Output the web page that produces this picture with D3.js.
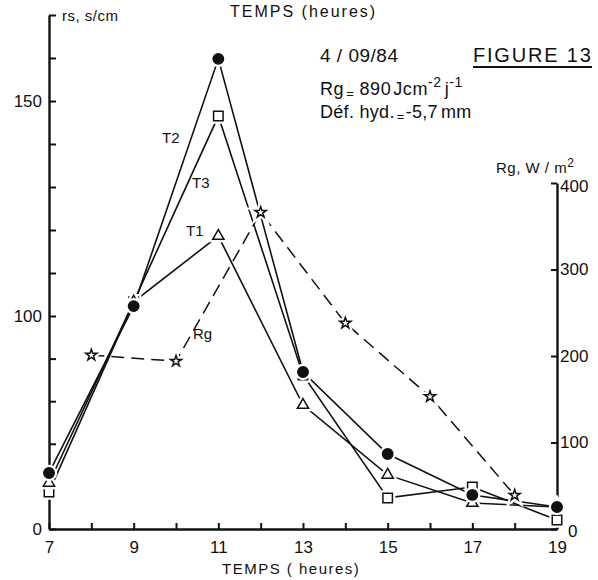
<!DOCTYPE html>
<html lang="fr">
<head>
  <meta charset="UTF-8">
  <title>Figure 13</title>
  <script src="https://cdn.jsdelivr.net/npm/d3@7"></script>
  <style>
    html, body {
      margin: 0;
      padding: 0;
      background: #fff;
    }
    svg text {
      font-family: "Liberation Sans", Arial, sans-serif;
      fill: #111;
    }
  </style>
</head>
<body>
  <div id="chart"></div>
  <script>
    const hours = [7, 9, 11, 13, 15, 17, 19];
    const t1 = [21.6, 103.3, 118.6, 58.2, 25.4, 12.2, 10.3];
    const t2 = [26.3, 102.3, 159.8, 73.7, 35.2, 16, 10.3];
    const t3 = [17.4, 103.3, 146.5, 72.3, 14.6, 19.7, 4.2];

    // rayonnement global, W/m2
    const rgHours = [8, 10, 12, 14, 16, 18];
    const rg = [201, 194, 366, 238, 153, 39];

    const xTicks = d3.range(7, 20);
    const xLabels = [7, 9, 11, 13, 15, 17, 19];
    const leftTicks = [0, 20, 40, 60, 80, 100, 110, 120, 130, 140, 150, 160, 170];
    const leftLabels = [0, 100, 150];
    const rightTicks = [0, 100, 200, 300, 400];

    const svg = d3.select('#chart').append('svg')
      .attr('width', 598)
      .attr('height', 580);

    const x = d3.scaleLinear().domain([7, 19]).range([49, 557]);
    // the rs axis is drawn compressed below 100
    const yL = d3.scaleLinear().domain([0, 100, 170]).range([529, 316, 15]);
    const yR = d3.scaleLinear().domain([0, 400]).range([529, 183]);

    // axes
    const gx = svg.append('g')
      .attr('transform', 'translate(0,529)')
      .call(d3.axisBottom(x)
        .tickValues(xTicks)
        .tickSizeInner(-6)
        .tickSizeOuter(0)
        .tickPadding(12)
        .tickFormat(d => xLabels.includes(d) ? d : ''));

    const gl = svg.append('g')
      .attr('transform', 'translate(49,0)')
      .call(d3.axisLeft(yL)
        .tickValues(leftTicks)
        .tickSizeInner(-7)
        .tickSizeOuter(0)
        .tickPadding(7)
        .tickFormat(d => leftLabels.includes(d) ? d : ''));

    const gr = svg.append('g')
      .attr('transform', 'translate(557,0)')
      .call(d3.axisRight(yR)
        .tickValues(rightTicks)
        .tickSizeInner(-6)
        .tickSizeOuter(0)
        .tickPadding(3));

    gr.selectAll('.tick').filter(d => d === 0).select('text')
      .attr('x', 11).attr('dy', '0.45em');
    gr.selectAll('.tick').filter(d => d === 400).select('text')
      .attr('dy', '0.5em');

    [gx, gl, gr].forEach(g => {
      g.select('.domain').attr('stroke', '#111').attr('stroke-width', 2.4);
      g.selectAll('.tick line').attr('stroke', '#111').attr('stroke-width', 2);
      g.selectAll('.tick text').attr('font-size', 17).attr('font-family', 'Liberation Sans, Arial, sans-serif').attr('fill', '#111');
    });

    // lines
    const lineL = d3.line().x((d, i) => x(hours[i])).y(d => yL(d));
    const lineR = d3.line().x((d, i) => x(rgHours[i])).y(d => yR(d));

    [t1, t2, t3].forEach(s => {
      svg.append('path')
        .attr('d', lineL(s))
        .attr('fill', 'none')
        .attr('stroke', '#111')
        .attr('stroke-width', 1.6);
    });

    svg.append('path')
      .attr('d', lineR(rg))
      .attr('fill', 'none')
      .attr('stroke', '#111')
      .attr('stroke-width', 1.5)
      .attr('stroke-dasharray', '13,7');

    // markers, with a white halo so lines stop short of them
    function markers(values, xs, yScale, type, size, fill) {
      const sym = d3.symbol().type(type).size(size);
      const g = svg.append('g');
      g.selectAll('path.halo').data(values).join('path')
        .attr('class', 'halo')
        .attr('transform', (d, i) => `translate(${x(xs[i])},${yScale(d)})`)
        .attr('d', sym)
        .attr('fill', '#fff')
        .attr('stroke', '#fff')
        .attr('stroke-width', 6);
      g.selectAll('path.mark').data(values).join('path')
        .attr('class', 'mark')
        .attr('transform', (d, i) => `translate(${x(xs[i])},${yScale(d)})`)
        .attr('d', sym)
        .attr('fill', fill)
        .attr('stroke', '#111')
        .attr('stroke-width', 1.5);
    }

    markers(rg, rgHours, yR, d3.symbolStar, 38, '#fff');
    markers(t3, hours, yL, d3.symbolSquare, 90, '#fff');
    markers(t1, hours, yL, d3.symbolTriangle, 55, '#fff');
    markers(t2, hours, yL, d3.symbolCircle, 85, '#111');

    // series labels
    const labels = [
      { t: 'T2', x: 162, y: 143 },
      { t: 'T3', x: 192, y: 188 },
      { t: 'T1', x: 186, y: 236 },
      { t: 'Rg', x: 193, y: 339 }
    ];
    svg.selectAll('text.series').data(labels).join('text')
      .attr('class', 'series')
      .attr('x', d => d.x)
      .attr('y', d => d.y)
      .attr('font-size', 15)
      .text(d => d.t);

    // axis titles
    svg.append('text')
      .attr('x', 230).attr('y', 17)
      .attr('font-size', 16)
      .attr('letter-spacing', 2)
      .text('TEMPS (heures)');

    svg.append('text')
      .attr('x', 222).attr('y', 574)
      .attr('font-size', 15)
      .attr('letter-spacing', 1.5)
      .text('TEMPS ( heures)');

    svg.append('text')
      .attr('x', 62).attr('y', 21)
      .attr('font-size', 15)
      .attr('letter-spacing', 0.5)
      .text('rs, s/cm');

    const rgt = svg.append('text')
      .attr('x', 496).attr('y', 173)
      .attr('font-size', 15)
      .attr('letter-spacing', 0.5);
    rgt.append('tspan').text('Rg, W / m');
    rgt.append('tspan').attr('dy', -6).attr('font-size', 12).text('2');

    // annotations
    svg.append('text')
      .attr('x', 320).attr('y', 62)
      .attr('font-size', 19)
      .attr('letter-spacing', 0.5)
      .text('4 / 09/84');

    svg.append('text')
      .attr('x', 473).attr('y', 62)
      .attr('font-size', 20)
      .attr('letter-spacing', 1.8)
      .text('FIGURE 13');
    svg.append('line')
      .attr('x1', 473).attr('x2', 592)
      .attr('y1', 67).attr('y2', 67)
      .attr('stroke', '#111')
      .attr('stroke-width', 2);

    const rgLine = svg.append('text')
      .attr('x', 320).attr('y', 95)
      .attr('font-size', 18)
      .attr('letter-spacing', 0.6);
    rgLine.append('tspan').text('Rg');
    rgLine.append('tspan').attr('dx', 2).attr('dy', 3).attr('font-size', 13).text('=');
    rgLine.append('tspan').attr('dx', 5).attr('dy', -3).text('890');
    rgLine.append('tspan').attr('dx', 2).text('Jcm');
    rgLine.append('tspan').attr('dy', -8).attr('font-size', 14).text('-2');
    rgLine.append('tspan').attr('dx', 3).attr('dy', 8).text('j');
    rgLine.append('tspan').attr('dy', -8).attr('font-size', 14).text('-1');

    const defLine = svg.append('text')
      .attr('x', 320).attr('y', 118)
      .attr('font-size', 18)
      .attr('letter-spacing', 0.3);
    defLine.append('tspan').text('Déf. hyd.');
    defLine.append('tspan').attr('dx', 2).attr('dy', 3).attr('font-size', 13).text('=');
    defLine.append('tspan').attr('dx', 1).attr('dy', -3).text('-5,7');
    defLine.append('tspan').attr('dx', 3).text('mm');
  </script>
</body>
</html>
